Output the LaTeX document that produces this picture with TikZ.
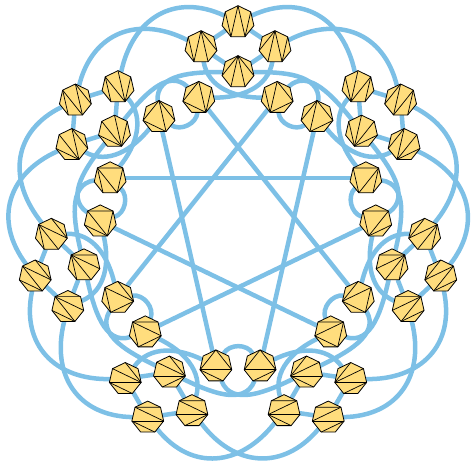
\documentclass[tikz,border=0pt]{standalone}
\usetikzlibrary{shapes.geometric}
\definecolor{linkblue}{RGB}{125,192,230}
\definecolor{heptfill}{RGB}{255,221,125}
\pgfdeclarelayer{bg}
\pgfsetlayers{bg,main}
% Diagonals of a triangulated heptagon, labels turned by #2.
\newcommand\tri[3]{%
  \foreach \i/\j in {#3}{%
    \pgfmathtruncatemacro\ci{mod(\i+#2,7)+1}%
    \pgfmathtruncatemacro\cj{mod(\j+#2,7)+1}%
    \draw[diag] (#1.corner \ci) -- (#1.corner \cj);
  }}
\begin{document}
\begin{tikzpicture}[x=1pt,y=1pt,
  hept/.style={regular polygon,regular polygon sides=7,minimum size=32.6pt,
    inner sep=0pt,outer sep=0pt,draw=black,line width=0.8pt,fill=heptfill},
  diag/.style={black,line width=0.7pt},
  link/.style={linkblue,line width=4.5pt}]
  \useasboundingbox (-238,-234) rectangle (234,230);

  % Heptagons, one cluster and two inner ones per sector.
  \foreach \k in {0,...,6}{
    \pgfmathsetmacro{\a}{\k*360/7}
    \pgfmathtruncatemacro{\sa}{mod(4*\k,7)}
    \pgfmathtruncatemacro{\sb}{mod(4*\k+3,7)}
    \node[hept] (A\k) at (\a+90:208) {};
    \node[hept] (B\k) at (\a+101.43:186.7) {};
    \node[hept] (C\k) at (\a+78.57:186.7) {};
    \node[hept] (D\k) at (\a+90:158) {};
    \node[hept] (L\k) at (\a+106.5:138) {};
    \node[hept] (R\k) at (\a+73.5:138) {};
    \tri{A\k}{\sa}{0/3,0/4,1/3,4/6}
    \tri{B\k}{\sa}{0/3,0/4,0/5,1/3}
    \tri{C\k}{\sa}{0/2,0/3,0/4,4/6}
    \tri{D\k}{\sa}{0/2,0/3,0/4,0/5}
    \tri{L\k}{\sa}{0/2,0/4,2/4,4/6}
    \tri{R\k}{\sb}{0/2,0/4,0/5,2/4}
  }

  % Flips.
  \begin{pgfonlayer}{bg}
  \foreach \k in {0,...,6}{
    \pgfmathtruncatemacro{\a}{round(\k*360/7)}
    \pgfmathtruncatemacro{\kp}{mod(\k+1,7)}
    \pgfmathtruncatemacro{\km}{mod(\k+6,7)}
    \pgfmathtruncatemacro{\kq}{mod(\k+2,7)}
    % Cluster.
    \draw[link] (A\k) -- (B\k) (A\k) -- (C\k) (B\k) -- (D\k) (C\k) -- (D\k);
    % Crossing below the cluster.
    \pgfmathtruncatemacro{\oa}{\a-80}
    \pgfmathtruncatemacro{\ia}{\a+180}
    \pgfmathtruncatemacro{\ob}{\a-100}
    \draw[link] (B\k) to[out=\oa,in=\ia] (R\k);
    \draw[link] (C\k) to[out=\ob,in=\a] (L\k);
    % Outer arcs to the next cluster.
    \pgfmathtruncatemacro{\oc}{\a+155}
    \pgfmathtruncatemacro{\ic}{\a+78}
    \pgfmathtruncatemacro{\od}{\a+153}
    \pgfmathtruncatemacro{\id}{\a+76}
    \draw[link] (A\k) to[out=\oc,in=\ic,looseness=1.2] (C\kp);
    \draw[link] (B\k) to[out=\od,in=\id,looseness=1.2] (A\kp);
    % Inner ring.
    \pgfmathtruncatemacro{\ie}{\a+95}
    \pgfmathtruncatemacro{\ih}{\a+85}
    \pgfmathtruncatemacro{\og}{\a-95}
    \pgfmathtruncatemacro{\ig}{\a-34}
    \draw[link] (D\k) to[out=\ia,in=\ie] (R\kp);
    \draw[link] (D\k) to[out=\a,in=\ih] (L\km);
    \draw[link] (L\k) to[out=\og,in=\ig] (R\kp);
    % Star.
    \draw[link] (R\k) -- (L\kq);
  }
  \end{pgfonlayer}
\end{tikzpicture}
\end{document}
